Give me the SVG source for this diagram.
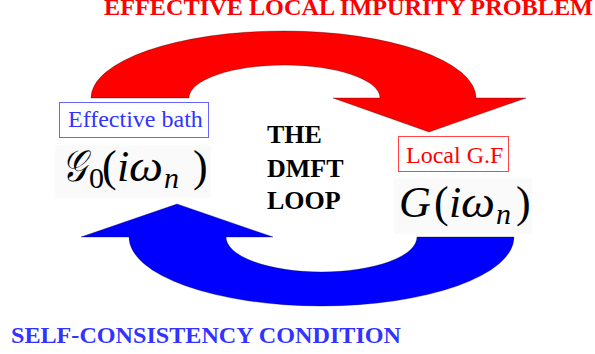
<svg xmlns="http://www.w3.org/2000/svg" width="595" height="354" viewBox="0 0 595 354">
<style>
text{font-family:'Liberation Serif','Times New Roman','DejaVu Serif',serif}
.title{font-weight:bold;font-size:24px}
.lbl{font-size:24px}
.loop{font-weight:bold;font-size:26px;fill:#000}
.math{font-size:44px;fill:#000}
.it{font-style:italic}
.sub{font-size:30px}
.mbg{fill:#fafafa}
.arrow{stroke:#000;stroke-width:0.5;stroke-opacity:0.6}
</style>
<rect width="595" height="354" fill="#fff"/>
<g id="connectors">
  <path id="impurity-arrow" class="arrow" fill="#ff0000" d="M91,98 A192.5,67 0 0 1 476,98 L526,98 L429,132 L333,98 L380,98 A95.5,33 0 0 0 189,98 Z"/>
  <path id="selfconsistency-arrow" class="arrow" fill="#0000ff" d="M514,237 A192.5,69 0 0 1 129,237 L81,237 L177,204 L273,237 L226,237 A95.5,35 0 0 0 417,237 Z"/>
</g>
<g id="title-top">
  <text class="title" x="104" y="15" fill="#ff0000" textLength="489" lengthAdjust="spacingAndGlyphs">EFFECTIVE LOCAL IMPURITY PROBLEM</text>
</g>
<g id="title-bottom">
  <text class="title" x="11" y="343" fill="#3333ff" textLength="390" lengthAdjust="spacingAndGlyphs">SELF-CONSISTENCY CONDITION</text>
</g>
<g id="bath">
  <rect x="59.5" y="102.5" width="149" height="35" fill="#fff" stroke="#6666ff" stroke-width="1"/>
  <text class="lbl" x="68" y="127" fill="#3333ff">Effective bath</text>
  <rect class="mbg" x="55" y="145" width="156" height="53"/>
  <text class="math it" x="62" y="181" textLength="24" lengthAdjust="spacingAndGlyphs">𝒢</text>
  <text class="math sub" x="89" y="188">0</text>
  <text class="math" x="102" y="181">(</text>
  <text class="math it" x="117" y="181">i</text>
  <text class="math it" x="129" y="181" textLength="34" lengthAdjust="spacingAndGlyphs">ω</text>
  <text class="math sub it" x="164" y="188">n</text>
  <text class="math" x="193" y="181">)</text>
</g>
<g id="loop-label">
  <text class="loop" x="267" y="143">THE</text>
  <text class="loop" x="267" y="177">DMFT</text>
  <text class="loop" x="267" y="209">LOOP</text>
</g>
<g id="local">
  <rect x="398.5" y="136.5" width="110" height="35" fill="#fff" stroke="#ff4444" stroke-width="1"/>
  <text class="lbl" x="406" y="163" fill="#ff0000">Local G.F</text>
  <rect class="mbg" x="394" y="178" width="138" height="56"/>
  <text class="math it" x="399" y="217">G</text>
  <text class="math" x="434" y="217">(</text>
  <text class="math it" x="449" y="217">i</text>
  <text class="math it" x="461" y="217" textLength="34" lengthAdjust="spacingAndGlyphs">ω</text>
  <text class="math sub it" x="496" y="224">n</text>
  <text class="math" x="516" y="217">)</text>
</g>
</svg>
